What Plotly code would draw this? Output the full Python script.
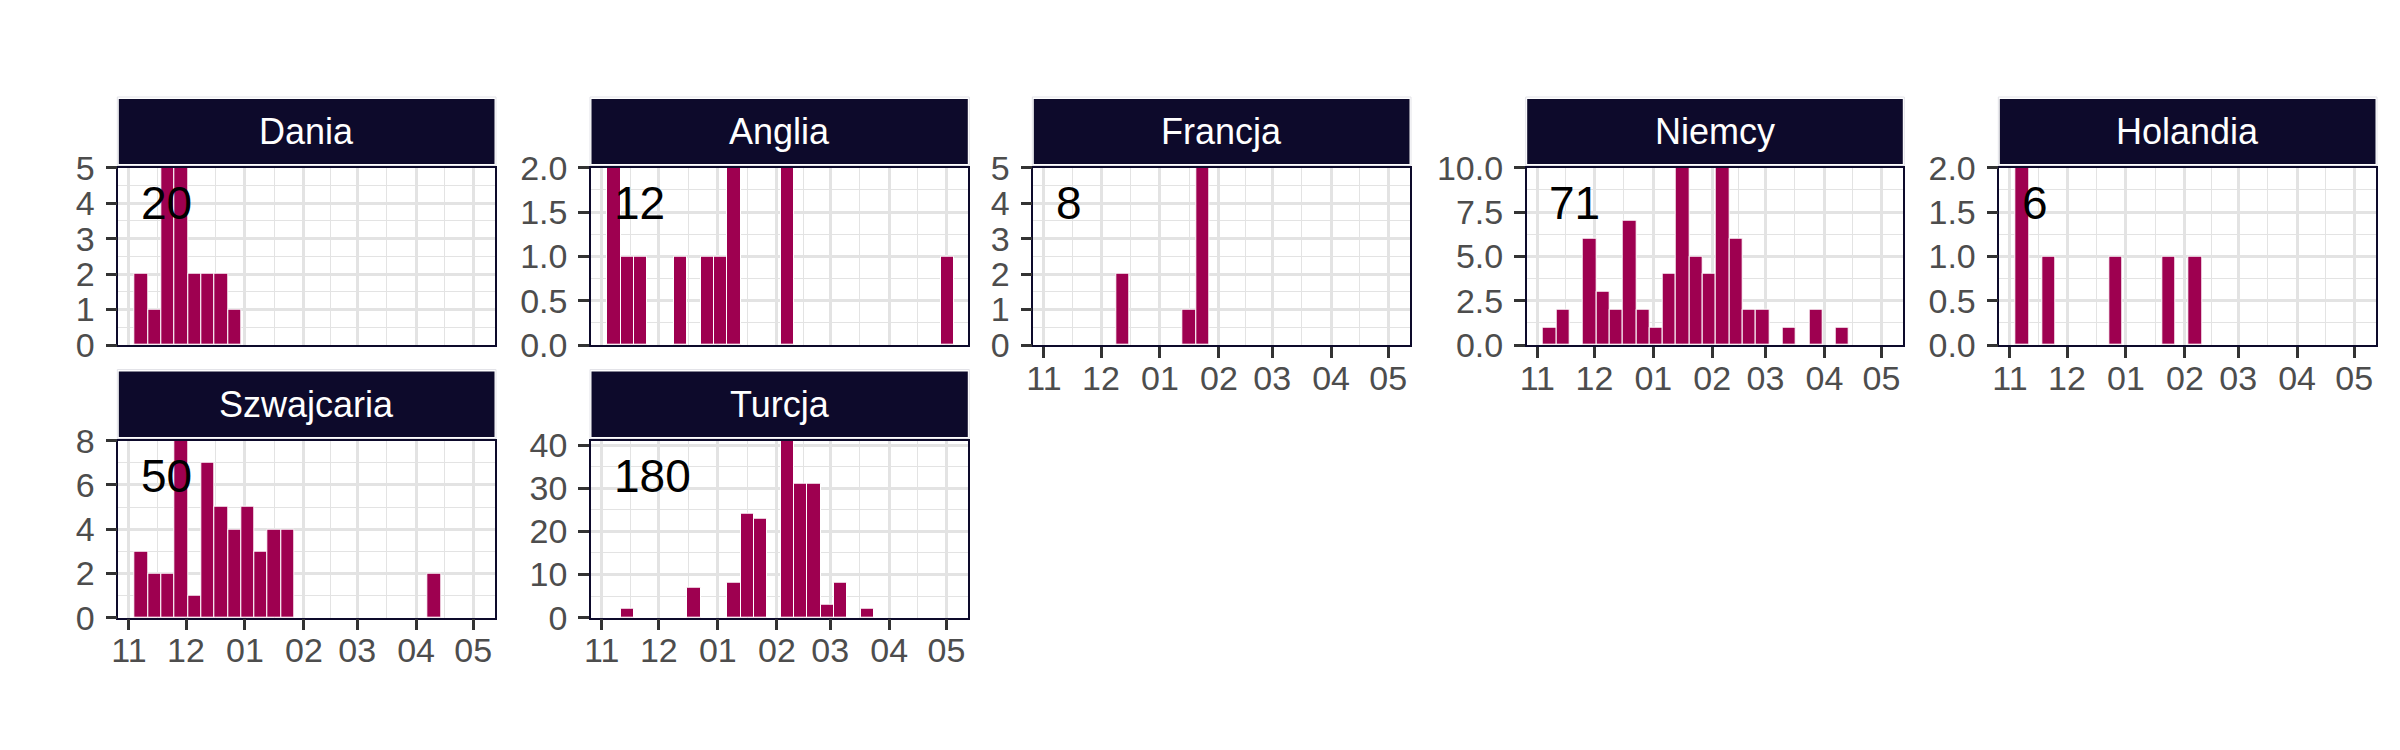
import plotly.graph_objects as go
import pandas as pd

# ---------------- data ----------------
countries = ["Dania", "Anglia", "Francja", "Niemcy", "Holandia", "Szwajcaria", "Turcja"]
first_week = "2020-11-04"   # start of first weekly bin
n_weeks = 26
month_ticks = ["2020-11-01", "2020-12-01", "2021-01-01", "2021-02-01",
               "2021-03-01", "2021-04-01", "2021-05-01"]
month_labels = ["11", "12", "01", "02", "03", "04", "05"]

dania      = [2, 1, 5, 5, 2, 2, 2, 1, 0, 0, 0, 0, 0, 0, 0, 0, 0, 0, 0, 0, 0, 0, 0, 0, 0, 0]
anglia     = [2, 1, 1, 0, 0, 1, 0, 1, 1, 2, 0, 0, 0, 2, 0, 0, 0, 0, 0, 0, 0, 0, 0, 0, 0, 1]
francja    = [0, 0, 0, 0, 0, 2, 0, 0, 0, 0, 1, 5, 0, 0, 0, 0, 0, 0, 0, 0, 0, 0, 0, 0, 0, 0]
niemcy     = [1, 2, 0, 6, 3, 2, 7, 2, 1, 4, 10, 5, 4, 10, 6, 2, 2, 0, 1, 0, 2, 0, 1, 0, 0, 0]
holandia   = [2, 0, 1, 0, 0, 0, 0, 1, 0, 0, 0, 1, 0, 1, 0, 0, 0, 0, 0, 0, 0, 0, 0, 0, 0, 0]
szwajcaria = [3, 2, 2, 8, 1, 7, 5, 4, 5, 3, 4, 4, 0, 0, 0, 0, 0, 0, 0, 0, 0, 0, 2, 0, 0, 0]
turcja     = [0, 2, 0, 0, 0, 0, 7, 0, 0, 8, 24, 23, 0, 41, 31, 31, 3, 8, 0, 2, 0, 0, 0, 0, 0, 0]

series = [dania, anglia, francja, niemcy, holandia, szwajcaria, turcja]
y_dticks = [1, 0.5, 1, 2.5, 0.5, 2, 10]
y_formats = ["d", ".1f", "d", ".1f", ".1f", "d", "d"]

# ---------------- style / layout ----------------
W, H = 2400, 750
OFF = 8  # page body margin
BAR = "#9E0050"
NAVY = "#0D0A2B"
GRID = "#E3E3E3"
TXT = "#4D4D4D"
FONT = "Liberation Sans, Arial, sans-serif"
TICK_SIZE = 34

col_px = [(118.3, 495.0), (591.0, 968.3), (1033.3, 1410.0), (1526.7, 1903.3), (1999.3, 2376.0)]
row_px = [(167.7, 345.0), (440.7, 617.7)]        # panel top, bottom
strip_px = [(99.0, 164.0), (371.5, 437.0)]      # strip top, bottom
positions = [(0, 0), (0, 1), (0, 2), (0, 3), (0, 4), (1, 0), (1, 1)]
x_axis_shown = [False, False, True, True, True, True, True]

x_range = [pd.Timestamp("2020-11-01") - pd.Timedelta(days=5.6),
           pd.Timestamp("2021-05-01") + pd.Timedelta(days=11.5)]
label_x = pd.Timestamp("2020-11-06 06:00")


def px_x(v):
    return (v - OFF) / W


def px_y(v):
    return 1 - (v - OFF) / H


weeks = pd.date_range(first_week, periods=n_weeks, freq="7D")
centers = weeks + pd.Timedelta(days=3.5)
mt = pd.to_datetime(month_ticks)
minor_x = [mt[i] + (mt[i + 1] - mt[i]) / 2 for i in range(len(mt) - 1)]

fig = go.Figure()
shapes = []
annotations = []

for i, (name, counts) in enumerate(zip(countries, series)):
    r, c = positions[i]
    sfx = "" if i == 0 else str(i + 1)
    xa, ya = "x" + sfx, "y" + sfx
    xs = [centers[k] for k in range(n_weeks) if counts[k] > 0]
    ys = [counts[k] for k in range(n_weeks) if counts[k] > 0]
    fig.add_trace(go.Bar(
        x=xs, y=ys, xaxis=xa, yaxis=ya,
        width=7 * 86400000,
        marker=dict(color=BAR, line=dict(color="white", width=1)),
        showlegend=False, hoverinfo="skip",
    ))
    x0, x1 = col_px[c]
    top, bot = row_px[r]
    ymax = max(counts)
    show_x = x_axis_shown[i]
    fig.layout["xaxis" + sfx] = dict(
        domain=[px_x(x0), px_x(x1)], anchor=ya, type="date",
        range=x_range, tickvals=mt, ticktext=month_labels,
        showticklabels=show_x, ticks="outside" if show_x else "",
        ticklen=11, tickwidth=3, tickcolor="#333333",
        ticklabelstandoff=-9,
        tickfont=dict(family=FONT, size=TICK_SIZE, color=TXT),
        showgrid=True, gridcolor=GRID, gridwidth=2.6,
        minor=dict(tickmode="array", tickvals=minor_x, showgrid=True,
                   gridcolor=GRID, gridwidth=1.4),
        showline=True, mirror=True, linecolor=NAVY, linewidth=1.5,
        zeroline=False, fixedrange=True, automargin=False,
    )
    fig.layout["yaxis" + sfx] = dict(
        domain=[px_y(bot), px_y(top)], anchor=xa,
        range=[0, ymax], tick0=0, dtick=y_dticks[i], tickformat=y_formats[i],
        ticks="outside", ticklen=11, tickwidth=3, tickcolor="#333333",
        ticklabelstandoff=4,
        tickfont=dict(family=FONT, size=TICK_SIZE, color=TXT),
        showgrid=True, gridcolor=GRID, gridwidth=2.6,
        minor=dict(dtick=y_dticks[i] / 2, tick0=0, showgrid=True,
                   gridcolor=GRID, gridwidth=1.4),
        showline=True, mirror=True, linecolor=NAVY, linewidth=1.5,
        zeroline=False, fixedrange=True, automargin=False,
    )
    # strip
    s_top, s_bot = strip_px[r]
    shapes.append(dict(type="rect", xref="paper", yref="paper",
                       x0=px_x(x0 - 1), x1=px_x(x1 + 1),
                       y0=px_y(s_bot + 1.5), y1=px_y(s_top - 2),
                       line=dict(color="#E3E3E8", width=1), fillcolor="white", layer="below"))
    shapes.append(dict(type="rect", xref="paper", yref="paper",
                       x0=px_x(x0 + 0.5), x1=px_x(x1 - 0.5),
                       y0=px_y(s_bot), y1=px_y(s_top),
                       line=dict(width=0), fillcolor=NAVY, layer="above"))
    annotations.append(dict(xref="paper", yref="paper",
                            x=px_x((x0 + x1) / 2), y=px_y((s_top + s_bot) / 2),
                            text=name, showarrow=False, xanchor="center", yanchor="middle",
                            font=dict(family=FONT, size=36, color="white")))
    # total count label
    annotations.append(dict(xref=xa, yref=ya, x=label_x, y=0.8 * ymax,
                            text=str(sum(counts)), showarrow=False,
                            xanchor="left", yanchor="middle",
                            font=dict(family=FONT, size=46, color="black")))

fig.update_layout(
    width=W, height=H, autosize=False,
    margin=dict(l=0, r=0, t=0, b=0, pad=0, autoexpand=False),
    paper_bgcolor="white", plot_bgcolor="white",
    shapes=shapes, annotations=annotations,
    bargap=0, showlegend=False,
    font=dict(family=FONT),
)

fig.write_html("out.html")
